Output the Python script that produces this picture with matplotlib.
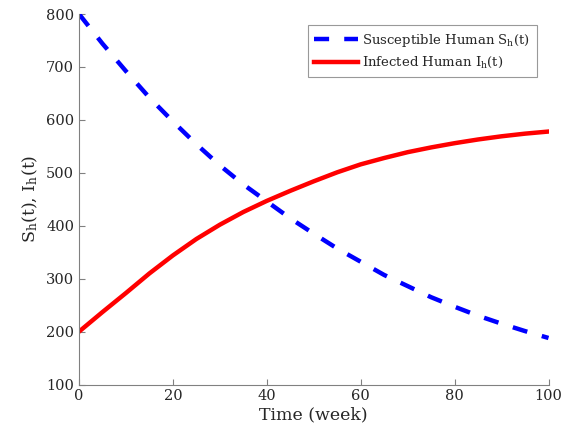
import matplotlib
matplotlib.use("Agg")
import matplotlib.pyplot as plt

t = [0, 5, 10, 15, 20, 25, 30, 35, 40, 45, 50, 55, 60, 65, 70, 75, 80, 85, 90, 95, 100]
S_h = [800, 744, 692, 642, 597, 554, 514, 478, 446, 414, 385, 357, 332, 307, 286, 265, 247, 230, 215, 201, 188]
I_h = [200, 237, 273, 310, 344, 375, 402, 426, 447, 466, 484, 501, 516, 528, 539, 548, 556, 563, 569, 574, 578]
xticks = [0, 20, 40, 60, 80, 100]
yticks = [100, 200, 300, 400, 500, 600, 700, 800]

plt.rcParams['font.family'] = ['DejaVu Serif']
plt.rcParams['mathtext.fontset'] = 'dejavuserif'

fig = plt.figure(figsize=(5.62, 4.38), dpi=100)
ax = fig.add_axes([0.1406, 0.122, 0.8354, 0.846])

ax.plot(t, S_h, color='#0000ff', lw=3.2, linestyle=(0, (3.4, 3.4)),
        label=r'Susceptible Human S$_\mathregular{h}$(t)')
ax.plot(t, I_h, color='#ff0000', lw=3.2,
        label=r'Infected Human I$_\mathregular{h}$(t)')

ax.set_xlim(0, 100)
ax.set_ylim(100, 800)
ax.set_xticks(xticks)
ax.set_yticks(yticks)
for s in ['top', 'right']:
    ax.spines[s].set_visible(False)
for s in ['left', 'bottom']:
    ax.spines[s].set_color('#808080')
    ax.spines[s].set_linewidth(0.8)
ax.tick_params(direction='in', length=4, width=0.8, color='#808080',
               labelsize=10.5, labelcolor='#262626')
ax.set_xlabel('Time (week)', fontsize=12.5, color='#262626', labelpad=2)
ax.set_ylabel(r'S$_\mathregular{h}$(t), I$_\mathregular{h}$(t)', fontsize=12.5,
              color='#262626', labelpad=4)

leg = ax.legend(loc='upper right', bbox_to_anchor=(537 / 562, 1 - 25 / 438),
                bbox_transform=fig.transFigure, borderaxespad=0,
                fontsize=9.5, frameon=True, fancybox=False,
                edgecolor='#808080', handlelength=3.3, borderpad=0.5,
                labelspacing=0.5, handletextpad=0.35)
leg.get_frame().set_linewidth(0.8)
for txt in leg.get_texts():
    txt.set_color('#262626')

fig.savefig('out.png', dpi=100)
